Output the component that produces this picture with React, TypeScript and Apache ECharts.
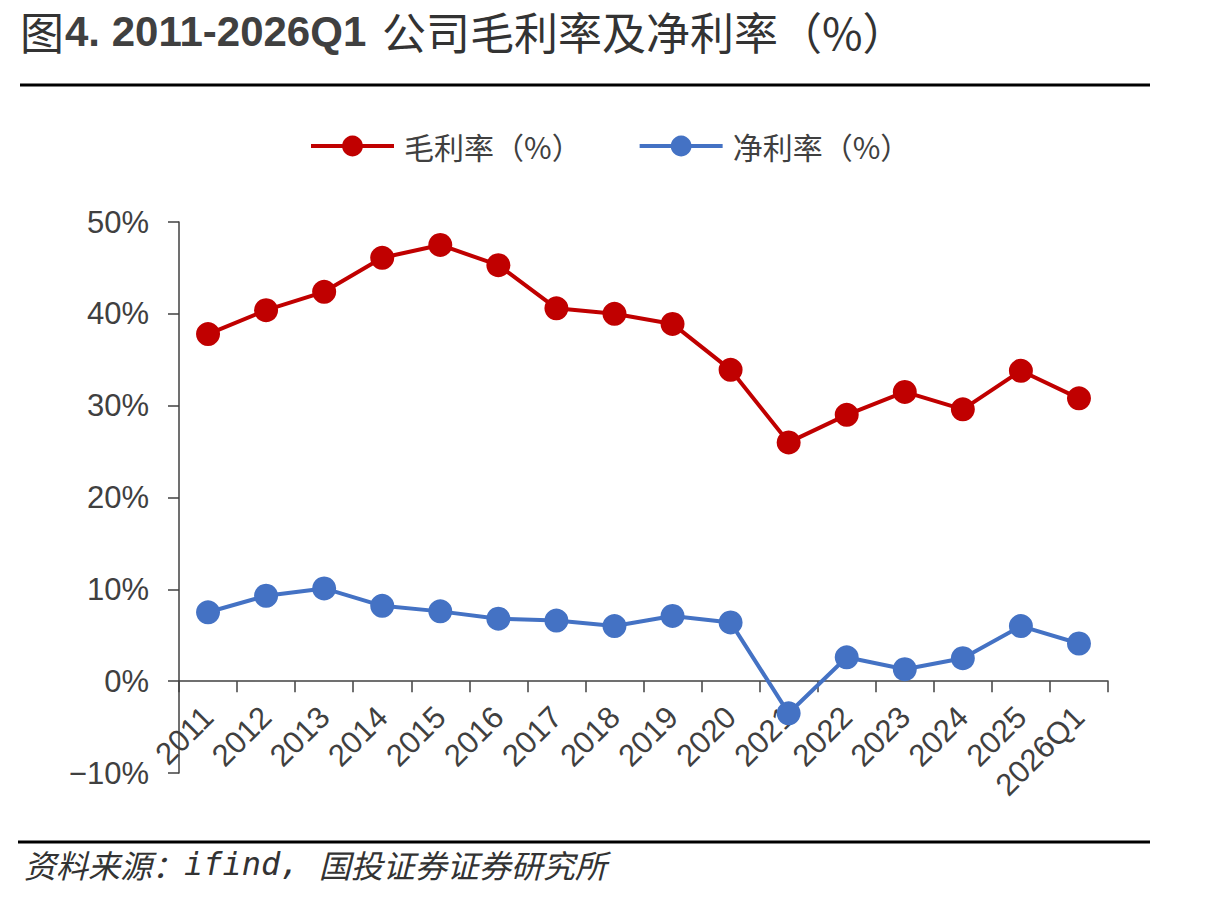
import React, { useEffect, useRef } from "react";
import * as echarts from "echarts";

const categories = ["2011","2012","2013","2014","2015","2016","2017","2018","2019","2020","2021","2022","2023","2024","2025","2026Q1"];
const grossMargin = [37.8,40.4,42.4,46.1,47.5,45.3,40.6,40.0,38.9,33.9,26.0,29.0,31.5,29.6,33.8,30.8];
const netMargin = [7.5,9.3,10.1,8.2,7.6,6.8,6.6,6.0,7.1,6.4,-3.5,2.6,1.3,2.5,6.0,4.1];
const seriesNames = ["毛利率（%）","净利率（%）"];
const titleParts = ["图", "4. 2011-2026Q1", "公司毛利率及净利率（%）"];
const sourceParts = ["资料来源：", "ifind, ", "国投证券证券研究所"];

export default function App() {
  const ref = useRef<HTMLDivElement>(null);
  useEffect(() => {
    const chart = echarts.init(ref.current!, null, { renderer: "svg" });
    const axisColor = "#404040";
    const numFont = "'Liberation Sans', Arial, sans-serif";
    chart.setOption({
      animation: false,
      backgroundColor: "#fff",
      legend: {
        top: 126,
        left: 304,
        itemWidth: 83,
        itemHeight: 26,
        itemGap: 56,
        lineStyle: { width: 4 },
        textStyle: { fontFamily: "'Noto Sans CJK SC'", fontSize: 30, color: "#404040", padding: [0, 0, 0, 5] },
        data: seriesNames,
      },
      grid: { left: 179, right: 110, top: 222, bottom: 127, containLabel: false, outerBoundsMode: "none" },
      xAxis: {
        type: "category",
        data: categories,
        boundaryGap: true,
        axisLine: { onZero: true, lineStyle: { color: axisColor, width: 1.5 } },
        axisTick: { show: true, length: 11, inside: false, lineStyle: { color: axisColor, width: 1.5 } },
        axisLabel: {
          rotate: 45,
          interval: 0,
          margin: -61,
          fontFamily: numFont,
          fontSize: 31,
          color: axisColor,
        },
      },
      yAxis: {
        type: "value",
        min: -10,
        max: 50,
        interval: 10,
        splitLine: { show: false },
        axisLine: { show: true, lineStyle: { color: axisColor, width: 1.5 } },
        axisTick: { show: true, length: 11, lineStyle: { color: axisColor, width: 1.5 } },
        axisLabel: {
          margin: 30,
          fontFamily: numFont,
          fontSize: 31,
          color: axisColor,
          formatter: (v: number) => (v < 0 ? "\u2212" + Math.abs(v) + "%" : v + "%"),
        },
      },
      series: [
        {
          name: seriesNames[0],
          type: "line",
          data: grossMargin,
          symbol: "circle",
          symbolSize: 24,
          itemStyle: { color: "#C00000" },
          lineStyle: { color: "#C00000", width: 4 },
        },
        {
          name: seriesNames[1],
          type: "line",
          data: netMargin,
          symbol: "circle",
          symbolSize: 24,
          itemStyle: { color: "#4472C4" },
          lineStyle: { color: "#4472C4", width: 4 },
        },
      ],
      graphic: [
        {
          type: "text",
          x: 20,
          y: 31,
          style: { text: titleParts[0], font: "normal 44px 'Noto Sans CJK SC'", fill: "#333", verticalAlign: "middle" },
        },
        {
          type: "text",
          x: 65,
          y: 31,
          style: { text: titleParts[1], font: "bold 42px 'Liberation Sans', Arial", fill: "#404040", verticalAlign: "middle" },
        },
        {
          type: "text",
          x: 382,
          y: 31,
          style: { text: titleParts[2], font: "normal 44px 'Noto Sans CJK SC'", fill: "#333", verticalAlign: "middle" },
        },
        { type: "line", shape: { x1: 20, y1: 85, x2: 1150, y2: 85 }, style: { stroke: "#000", lineWidth: 3 } },
        { type: "line", shape: { x1: 18, y1: 842, x2: 1150, y2: 842 }, style: { stroke: "#000", lineWidth: 3 } },
        {
          type: "text",
          left: 24,
          top: 848,
          style: {
            text: `{a|${sourceParts[0]}}{b|${sourceParts[1]}}{a|${sourceParts[2]}}`,
            rich: {
              a: { fontFamily: "'Noto Sans CJK SC'", fontSize: 32, fontStyle: "italic", fill: "#333" },
              b: { fontFamily: "'DejaVu Sans Mono'", fontSize: 32, fontStyle: "italic", fill: "#333" },
            },
          },
        },
      ],
    });
    return () => chart.dispose();
  }, []);
  return <div ref={ref} style={{ position: "fixed", left: 0, top: 0, width: 1218, height: 900 }} />;
}
